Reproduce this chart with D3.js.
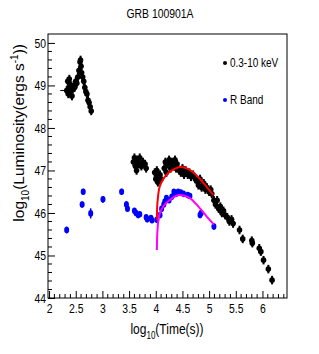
<!DOCTYPE html>
<meta charset="utf-8">
<title>GRB 100901A</title>
<style>
body { margin: 0; background: #fff; }
text { font-family: "Liberation Sans", Arial, sans-serif; }
</style>
<svg id="chart" width="319" height="354"></svg>
<script src="https://d3js.org/d3.v7.min.js"></script>
<script>
// X-ray 0.3-10 keV: [log10 t, log10 L]
var xrtPoints = [
	[2.33,48.88],[2.35,49.1],[2.36,48.8],[2.37,48.95],[2.38,49.15],[2.40,48.8],[2.41,49.0],[2.43,48.75],[2.44,48.9],
	[2.46,49.0],[2.48,48.95],[2.50,49.1],[2.52,49.05],[2.54,49.2],[2.56,49.35],[2.58,49.55],[2.59,49.6],
	[2.60,49.45],[2.61,49.3],[2.63,49.2],[2.65,49.1],[2.67,48.95],[2.69,48.85],[2.71,48.8],[2.73,48.65],
	[2.75,48.6],[2.77,48.5],[2.79,48.4],
	[3.58,47.2],[3.6,47.3],[3.62,47.1],[3.64,47.0],[3.65,47.25],[3.68,47.15],[3.7,47.3],[3.73,47.1],[3.76,47.2],[3.8,47.15],[3.82,47.05],
	[3.98,46.95],[4.0,46.8],[4.02,47.0],[4.04,46.72],[4.05,46.85],[4.08,46.9],[4.1,46.8],
	[4.16,47.05],[4.18,47.2],[4.2,46.95],[4.22,47.15],[4.25,47.25],[4.28,47.05],[4.3,47.2],[4.33,47.1],[4.36,47.25],[4.38,47.05],[4.4,47.15],
	[4.44,47.0],[4.47,46.95],[4.5,47.05],[4.53,46.9],[4.56,47.0],[4.6,46.9],[4.63,46.95],[4.66,46.85],[4.7,46.9],[4.74,46.8],
	[4.77,46.75],[4.8,46.65],[4.83,46.8],[4.86,46.6],[4.9,46.7],[4.93,46.55],[4.96,46.6],[5.0,46.5],[5.03,46.55],[5.05,46.45],
	[5.09,46.3],[5.12,46.2],[5.15,46.3],[5.18,46.1],[5.21,46.15],[5.24,46.0],[5.27,46.05],
	[5.3,45.95],[5.34,45.9],[5.38,45.8],[5.42,45.85],[5.45,45.75],
	[5.57,45.6],[5.63,45.39],[5.8,45.35],[5.81,45.29],[5.94,45.17],[5.97,45.09],[6.02,44.89],[6.11,44.68],[6.18,44.42]
];
// first X-ray point carries a time error bar back to ~2.21
var xrtTimeErr = [[2.21, 2.33, 48.88]];

// optical R band
var rPoints = [
	[2.33,45.6],[2.62,46.2],[2.64,46.5],[2.78,45.99],[3.01,46.32],[3.36,46.5],[3.45,46.2],[3.47,46.1],
	[3.6,46.05],[3.63,46.0],[3.67,45.95],[3.7,45.97],[3.82,45.9],[3.84,45.85],[3.91,45.88],[3.93,45.83],
	[4.02,45.84],[4.08,45.95],[4.11,46.1],[4.15,46.2],[4.17,46.27],[4.2,46.35],[4.25,46.3],[4.3,46.38],
	[4.34,46.5],[4.38,46.45],[4.42,46.5],[4.47,46.48],[4.52,46.45],[4.6,46.42],[4.64,46.4],[4.83,45.95],
	[4.85,46.0],[5.09,45.68]
];
var rErr = [0.08,0.07,0.07,0.12,0.08,0.07,0.08,0.07,0.06,0.06,0.06,0.06,0.06,0.06,0.06,0.06,
	0.07,0.06,0.06,0.06,0.06,0.06,0.06,0.06,0.06,0.06,0.06,0.06,0.06,0.06,0.06,0.06,0.06,0.07];

// model curves
var redCurve = [[4.02,45.84],[4.025,46.1],[4.04,46.35],[4.06,46.55],[4.1,46.7],[4.17,46.85],[4.25,46.96],
	[4.33,47.02],[4.45,47.08],[4.58,47.05],[4.7,46.96],[4.83,46.8],[4.95,46.62],[5.08,46.42]];
var magentaCurve = [[4.02,45.13],[4.025,45.4],[4.035,45.65],[4.05,45.85],[4.08,46.0],[4.14,46.15],[4.27,46.31],
	[4.45,46.42],[4.64,46.35],[4.8,46.15],[4.96,45.91],[5.09,45.73]];

var xTicks = [2, 2.5, 3, 3.5, 4, 4.5, 5, 5.5, 6];
var yTicks = [44, 45, 46, 47, 48, 49, 50];
var legendLabels = ["0.3-10 keV", "R Band"];

var svg = d3.select('#chart');
var mLeft = 48, mRight = 287, mTop = 34, mBottom = 298;
var narrow = 0.8;

// squeeze a text horizontally around its own x
function squeeze(sel, k) {
	sel.each(function() {
		var t = d3.select(this);
		var tx = +t.attr('x') || 0;
		t.attr('transform', 'translate(' + tx + ',0) scale(' + k + ',1) translate(' + (-tx) + ',0)');
	});
}

var x = d3.scaleLinear().domain([1.98, 6.46]).range([mLeft, mRight]);
var y = d3.scaleLinear().domain([44, 50.21]).range([mBottom, mTop]);

// frame
svg.append('rect')
	.attr('x', mLeft).attr('y', mTop)
	.attr('width', mRight - mLeft).attr('height', mBottom - mTop)
	.attr('fill', 'none').attr('stroke', '#000').attr('stroke-width', 1);

// x axis
var xAxis = d3.axisBottom(x).tickValues(xTicks).tickSize(-7).tickFormat(d3.format('~g'));
var gx = svg.append('g').attr('transform', 'translate(0,' + mBottom + ')').call(xAxis);
gx.select('.domain').remove();
gx.selectAll('.tick text').attr('font-size', 13).attr('y', 3).attr('dy', '0.9em')
	.attr('font-family', '"Liberation Sans", Arial').call(squeeze, narrow);
var xMinor = d3.range(20, 65).map(function(d) { return d / 10; }).filter(function(d) { return d % 0.5 !== 0; });
gx.selectAll('.minor').data(xMinor).enter().append('line')
	.attr('x1', function(d) { return x(d); }).attr('x2', function(d) { return x(d); })
	.attr('y1', 0).attr('y2', -4).attr('stroke', '#000');

// y axis
var yAxis = d3.axisLeft(y).tickValues(yTicks).tickSize(-7).tickFormat(d3.format('d'));
var gy = svg.append('g').attr('transform', 'translate(' + mLeft + ',0)').call(yAxis);
gy.select('.domain').remove();
gy.selectAll('.tick text').attr('font-size', 13).attr('x', -2)
	.attr('font-family', '"Liberation Sans", Arial').call(squeeze, narrow);
var yMinor = d3.range(220, 251).map(function(d) { return d / 5; }).filter(function(d) { return d % 1 !== 0; });
gy.selectAll('.minor').data(yMinor).enter().append('line')
	.attr('x1', 0).attr('x2', 4)
	.attr('y1', function(d) { return y(d); }).attr('y2', function(d) { return y(d); })
	.attr('stroke', '#000');

// titles
svg.append('text').attr('x', 160).attr('y', 18).attr('text-anchor', 'middle')
	.attr('font-size', 13).text('GRB 100901A').call(squeeze, narrow);

var xt = svg.append('text').attr('x', 167).attr('y', 334).attr('text-anchor', 'middle').attr('font-size', 15);
xt.append('tspan').text('log');
xt.append('tspan').attr('font-size', 10).attr('dy', 5).text('10');
xt.append('tspan').attr('dy', -5).text('(Time(s))');
xt.call(squeeze, narrow);

var yt = svg.append('text').attr('transform', 'translate(24,44) rotate(-90)')
	.attr('text-anchor', 'end').attr('font-size', 15.5);
yt.append('tspan').text('log');
yt.append('tspan').attr('font-size', 10).attr('dy', 5).text('10');
yt.append('tspan').attr('dy', -5).text('(Luminosity(ergs s');
yt.append('tspan').attr('font-size', 10).attr('dy', -6).text('-1');
yt.append('tspan').attr('dy', 6).text('))');

var plot = svg.append('g');

// X-ray error bars and markers
plot.selectAll('.xerr').data(xrtTimeErr).enter().append('line')
	.attr('x1', function(d) { return x(d[0]); }).attr('x2', function(d) { return x(d[1]); })
	.attr('y1', function(d) { return y(d[2]); }).attr('y2', function(d) { return y(d[2]); })
	.attr('stroke', '#000').attr('stroke-width', 1);
plot.selectAll('.xbar').data(xrtPoints).enter().append('line')
	.attr('x1', function(d) { return x(d[0]); }).attr('x2', function(d) { return x(d[0]); })
	.attr('y1', function(d) { return y(d[1] - 0.1); }).attr('y2', function(d) { return y(d[1] + 0.1); })
	.attr('stroke', '#000').attr('stroke-width', 2);
plot.selectAll('.xdot').data(xrtPoints).enter().append('circle')
	.attr('cx', function(d) { return x(d[0]); }).attr('cy', function(d) { return y(d[1]); })
	.attr('r', 2.8).attr('fill', '#000');

// R band
plot.selectAll('.rbar').data(rPoints).enter().append('line')
	.attr('x1', function(d) { return x(d[0]); }).attr('x2', function(d) { return x(d[0]); })
	.attr('y1', function(d, i) { return y(d[1] - rErr[i]); }).attr('y2', function(d, i) { return y(d[1] + rErr[i]); })
	.attr('stroke', '#0000ff').attr('stroke-width', 1.5);
plot.selectAll('.rdot').data(rPoints).enter().append('ellipse')
	.attr('cx', function(d) { return x(d[0]); }).attr('cy', function(d) { return y(d[1]); })
	.attr('rx', 2.5).attr('ry', 3.3).attr('fill', '#0000ff');

// model lines
var line = d3.line().x(function(d) { return x(d[0]); }).y(function(d) { return y(d[1]); }).curve(d3.curveMonotoneX);
plot.append('path').datum(redCurve).attr('d', line).attr('fill', 'none').attr('stroke', '#ff0000').attr('stroke-width', 2);
plot.append('path').datum(magentaCurve).attr('d', line).attr('fill', 'none').attr('stroke', '#ff00ff').attr('stroke-width', 2);

// legend
var legend = svg.append('g');
var legendColors = ['#000', '#0000ff'];
legend.selectAll('circle').data(legendLabels).enter().append('circle')
	.attr('cx', 225).attr('cy', function(d, i) { return 63 + i * 37; })
	.attr('r', 2).attr('fill', function(d, i) { return legendColors[i]; });
legend.selectAll('text').data(legendLabels).enter().append('text')
	.attr('x', 230).attr('y', function(d, i) { return 67 + i * 37; })
	.attr('font-size', 12.5).text(function(d) { return d; }).call(squeeze, narrow);
</script>
